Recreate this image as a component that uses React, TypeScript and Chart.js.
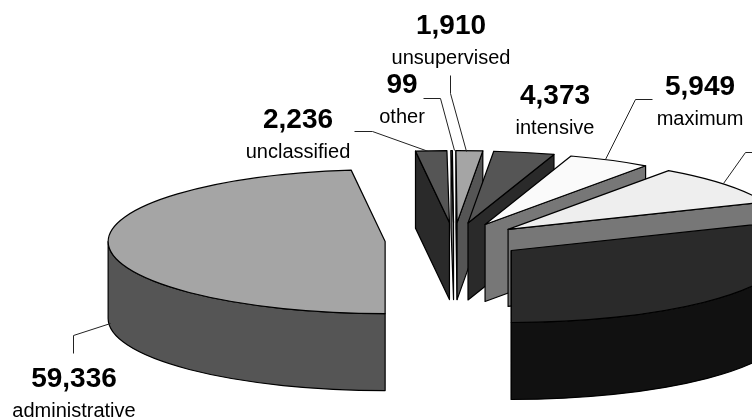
import React, { useEffect, useRef } from "react";
import { Chart, registerables } from "chart.js";

Chart.register(...registerables);

const categories = ["administrative", "unclassified", "other", "unsupervised", "intensive", "maximum", "medium", "minimum"];
const values = [59336, 2236, 99, 1910, 4373, 5949, 11100, 38500];
const topColors = ["#a5a5a5", "#555555", "#ffffff", "#a5a5a5", "#555555", "#fafafa", "#eeeeee", "#2a2a2a"];
const wallColors = ["#555555", "#2a2a2a", "#777777", "#555555", "#2a2a2a", "#777777", "#777777", "#111111"];
const valueLabels = ["59,336", "2,236", "99", "1,910", "4,373", "5,949"];

const TILT = 0.26;
const DEPTH = 77;
const labelSpots: [number, number][] = [[74, 379], [298, 120], [402, 85], [451, 26], [555, 96], [700, 87]];
const leaders: [number, number][][] = [
  [[110, 323], [73, 335], [73, 353]],
  [[354, 131], [372, 131], [428, 151]],
  [[423, 98], [440, 98], [454, 150]],
  [[450, 75], [450, 93], [466, 151]],
  [[652, 99], [635, 99], [605, 159]],
  [[752, 152], [745, 152], [723, 183]],
];

const pie3d = {
  id: "pie3d",
  beforeDatasetsDraw(chart: any) {
    const ctx: CanvasRenderingContext2D = chart.ctx;
    const arcs = chart.getDatasetMeta(0).data as any[];
    const order = arcs.map((a, i) => i).sort((p, q) => {
      const mid = (a: any) => (a.startAngle + a.endAngle) / 2;
      return Math.sin(mid(arcs[p])) - Math.sin(mid(arcs[q]));
    });
    ctx.save();
    ctx.lineWidth = 1.2;
    ctx.strokeStyle = "#000";
    ctx.lineJoin = "round";
    for (const i of order) {
      const a = arcs[i];
      const r = a.outerRadius;
      const s = a.startAngle;
      const e = a.endAngle;
      const mid = (s + e) / 2;
      const off = a.options.offset;
      const cx = a.x + Math.cos(mid) * off;
      const cy = a.y + Math.sin(mid) * off * TILT;
      const pt = (t: number): [number, number] => [cx + r * Math.cos(t), cy + r * TILT * Math.sin(t)];
      const fill = (c: string) => {
        ctx.fillStyle = c;
        ctx.fill();
        ctx.stroke();
      };
      const wall = (t: number) => {
        const [x, y] = pt(t);
        ctx.beginPath();
        ctx.moveTo(cx, cy);
        ctx.lineTo(x, y);
        ctx.lineTo(x, y + DEPTH);
        ctx.lineTo(cx, cy + DEPTH);
        ctx.closePath();
        fill(wallColors[i]);
      };
      if (Math.cos(s) < 0) wall(s);
      if (Math.cos(e) > 0) wall(e);
      // outer rim: only the part of it facing the viewer
      for (const k of [0, 2]) {
        const from = Math.max(s, k * Math.PI);
        const to = Math.min(e, (k + 1) * Math.PI);
        if (to > from) {
          ctx.beginPath();
          ctx.ellipse(cx, cy, r, r * TILT, 0, from, to);
          ctx.ellipse(cx, cy + DEPTH, r, r * TILT, 0, to, from, true);
          ctx.closePath();
          fill(wallColors[i]);
        }
      }
      ctx.beginPath();
      ctx.moveTo(cx, cy);
      ctx.ellipse(cx, cy, r, r * TILT, 0, s, e);
      ctx.closePath();
      fill(topColors[i]);
    }
    ctx.restore();
    return false;
  },
  afterDraw(chart: any) {
    const ctx: CanvasRenderingContext2D = chart.ctx;
    ctx.save();
    ctx.strokeStyle = "#222";
    ctx.lineWidth = 1;
    for (const l of leaders) {
      ctx.beginPath();
      l.forEach(([x, y], n) => (n ? ctx.lineTo(x + 0.5, y + 0.5) : ctx.moveTo(x + 0.5, y + 0.5)));
      ctx.stroke();
    }
    ctx.fillStyle = "#000";
    ctx.textAlign = "center";
    ctx.textBaseline = "middle";
    valueLabels.forEach((v, i) => {
      const [x, y] = labelSpots[i];
      ctx.font = 'bold 28px "Liberation Sans"';
      ctx.fillText(v, x, y);
      ctx.font = '20px "Liberation Sans"';
      ctx.fillText(categories[i], x, y + 32);
    });
    ctx.restore();
  },
};

export default function App() {
  const ref = useRef<HTMLCanvasElement>(null);
  useEffect(() => {
    const chart = new Chart(ref.current!, {
      type: "pie",
      data: {
        labels: categories,
        datasets: [{ data: values, backgroundColor: topColors, radius: 277, offset: 69 }],
      },
      options: {
        responsive: false,
        animation: false,
        rotation: 180,
        layout: { padding: { left: 156, top: 64 } },
        plugins: { legend: { display: false }, tooltip: { enabled: false } },
      },
      plugins: [pie3d],
    } as any);
    return () => chart.destroy();
  }, []);
  return (
    <div style={{ position: "fixed", left: 0, top: 0, width: 752, height: 417, background: "#fff" }}>
      <canvas ref={ref} width={752} height={417} style={{ display: "block" }} />
    </div>
  );
}
